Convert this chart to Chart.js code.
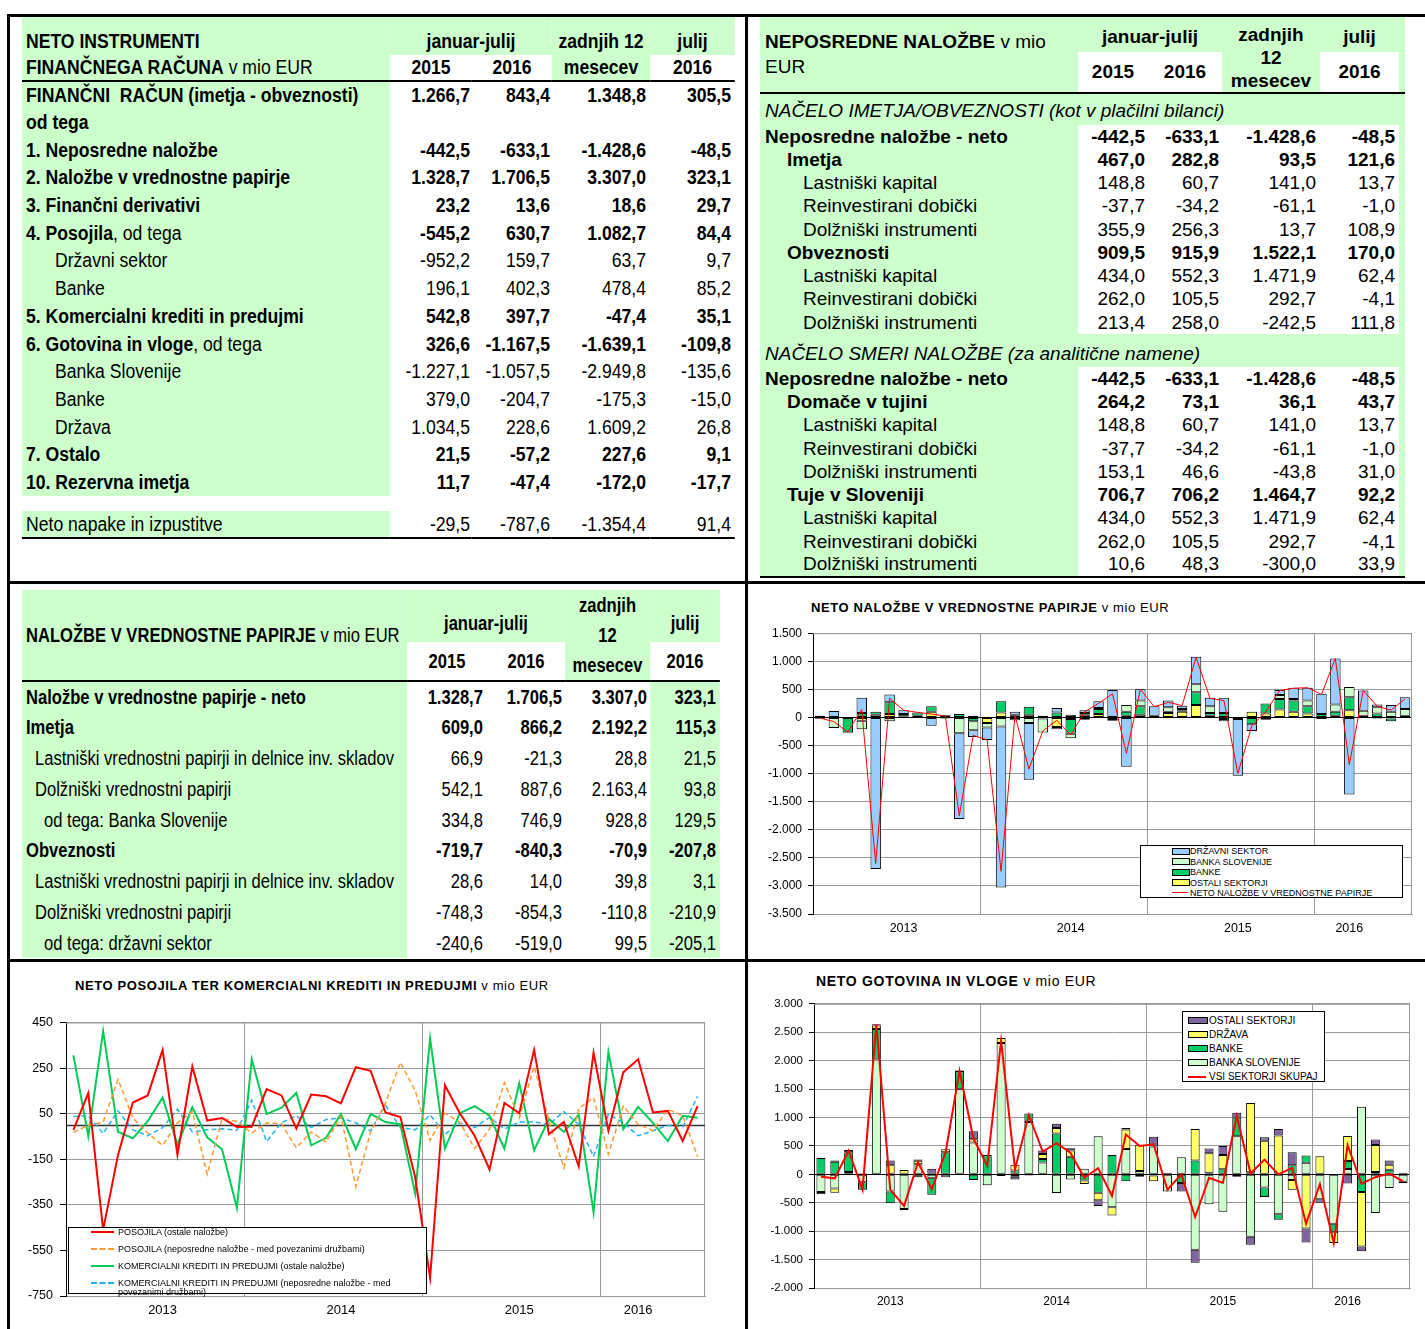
<!DOCTYPE html>
<html>
<head>
<meta charset="utf-8">
<script src="https://cdn.jsdelivr.net/npm/chart.js@4.4.0/dist/chart.umd.min.js"></script>
<style>
html, body { margin: 0; padding: 0; }
body { width: 1425px; height: 1329px; position: relative; overflow: hidden; background: #fff; font-family: 'Liberation Sans', Arial, sans-serif; color: #000; }
.ln { position: absolute; background: #000; }
table { position: absolute; border-collapse: collapse; table-layout: fixed; transform-origin: 0 0; }
td { padding: 0; white-space: nowrap; overflow: visible; vertical-align: middle; }
.g { background: #ccffcc; }
.b { font-weight: bold; }
.c { text-align: center; }
.hb { border-bottom: 2px solid #000; }
.ttl { position: absolute; white-space: nowrap; line-height: 16px; }
.box { position: absolute; }
.legend { position: absolute; border: 1px solid #000; background: #fff; box-sizing: border-box; }
.legend .sw, .legend .tx { position: absolute; }
</style>
</head>
<body>

<div class="ln" style="left:7px;top:14px;width:1418px;height:3px"></div>
<div class="ln" style="left:7px;top:14px;width:3px;height:1315px"></div>
<div class="ln" style="left:745px;top:14px;width:3px;height:1315px"></div>
<div class="ln" style="left:7px;top:581px;width:1418px;height:3px"></div>
<div class="ln" style="left:7px;top:959px;width:1418px;height:3px"></div>

<!-- narrow tables: drawn wider, then squeezed horizontally -->
<table id="t1" style="left:22px;top:17px;width:810.2px;font-size:20px;line-height:21px;transform:scaleX(0.88)">
  <colgroup><col style="width:418.2px"><col style="width:93.2px"><col style="width:90.9px"><col style="width:111.4px"><col style="width:96.5px"></colgroup>
  <tr style="height:38px" class="g">
    <td class="b" style="vertical-align:bottom;padding-left:4.5px;padding-bottom:3px">NETO INSTRUMENTI</td>
    <td colspan="2" class="b c" style="vertical-align:bottom;padding-bottom:3px">januar-julij</td>
    <td class="b c" style="vertical-align:bottom;padding-bottom:3px">zadnjih 12</td>
    <td class="b c" style="vertical-align:bottom;padding-bottom:3px">julij</td>
  </tr>
  <tr style="height:26px">
    <td class="g hb" style="padding-left:4.5px"><b>FINANČNEGA RAČUNA</b> v mio EUR</td>
    <td class="b c hb">2015</td><td class="b c hb">2016</td><td class="g b c hb">mesecev</td><td class="b c hb">2016</td>
  </tr>
</table>

<table id="t2" style="left:760px;top:17px;width:645px;font-size:19px;line-height:22px">
  <colgroup><col style="width:318px"><col style="width:70px"><col style="width:74px"><col style="width:98px"><col style="width:79px"><col style="width:6px"></colgroup>
  <tr style="height:35px">
    <td rowspan="2" class="g hb" style="vertical-align:top;padding:12px 0 0 5px;line-height:25px"><b>NEPOSREDNE NALOŽBE</b> v mio<br>EUR</td>
    <td colspan="2" class="g b c" style="vertical-align:bottom;padding-bottom:4px">januar-julij</td>
    <td rowspan="2" class="g b c hb" style="vertical-align:top;padding-top:6px;line-height:23px">zadnjih<br>12<br>mesecev</td>
    <td class="g b c" style="vertical-align:bottom;padding-bottom:4px">julij</td>
    <td rowspan="2" class="g hb"></td>
  </tr>
  <tr style="height:41px">
    <td class="b c hb">2015</td><td class="b c hb">2016</td><td class="b c hb">2016</td>
  </tr>
</table>

<table id="t3" style="left:22px;top:590px;width:821.2px;font-size:19.5px;line-height:22px;transform:scaleX(0.85)">
  <colgroup><col style="width:452.9px"><col style="width:94.1px"><col style="width:91.8px"><col style="width:100px"><col style="width:82.4px"></colgroup>
  <tr style="height:50px">
    <td rowspan="2" class="g hb" style="padding-left:4.7px"><b>NALOŽBE V VREDNOSTNE PAPIRJE</b> v mio EUR</td>
    <td colspan="2" class="g b c" style="vertical-align:bottom;padding-bottom:8px">januar-julij</td>
    <td rowspan="2" class="g b c hb" style="line-height:30px">zadnjih<br>12<br>mesecev</td>
    <td class="g b c" style="vertical-align:bottom;padding-bottom:8px">julij</td>
  </tr>
  <tr style="height:38px">
    <td class="b c hb">2015</td><td class="b c hb">2016</td><td class="b c hb">2016</td>
  </tr>
</table>

<div class="ttl" style="left:811px;top:600px;font-size:13px;letter-spacing:0.6px"><b>NETO NALOŽBE V VREDNOSTNE PAPIRJE</b> v mio EUR</div>
<div class="box" style="left:750px;top:620px;width:670px;height:325px"><canvas id="chartPapirji"></canvas></div>
<div class="legend" id="legPapirji" style="left:1140px;top:845px;width:263px;height:53px"></div>

<div class="ttl" style="left:75px;top:978px;font-size:13px;letter-spacing:0.6px"><b>NETO POSOJILA TER KOMERCIALNI KREDITI IN PREDUJMI</b> v mio EUR</div>
<div class="box" style="left:10px;top:1008px;width:700px;height:310px"><canvas id="chartPosojila"></canvas></div>
<div class="legend" id="legPosojila" style="left:68px;top:1227px;width:359px;height:67px"></div>

<div class="ttl" style="left:816px;top:973px;font-size:14px;letter-spacing:0.7px"><b>NETO GOTOVINA IN VLOGE</b> v mio EUR</div>
<div class="box" style="left:750px;top:991px;width:665px;height:320px"><canvas id="chartGotovina"></canvas></div>
<div class="legend" id="legGotovina" style="left:1182px;top:1011px;width:143px;height:71px"></div>

<script>
// meseci jan 2013 - jul 2016
const months = [
    'jan 13', 'feb 13', 'mar 13', 'apr 13', 'maj 13', 'jun 13', 'jul 13', 'avg 13', 'sep 13', 'okt 13', 'nov 13', 'dec 13',
    'jan 14', 'feb 14', 'mar 14', 'apr 14', 'maj 14', 'jun 14', 'jul 14', 'avg 14', 'sep 14', 'okt 14', 'nov 14', 'dec 14',
    'jan 15', 'feb 15', 'mar 15', 'apr 15', 'maj 15', 'jun 15', 'jul 15', 'avg 15', 'sep 15', 'okt 15', 'nov 15', 'dec 15',
    'jan 16', 'feb 16', 'mar 16', 'apr 16', 'maj 16', 'jun 16', 'jul 16'
];
const yearLabels = ['2013', '2014', '2015', '2016'];
const yearTickIdxA = [6, 18, 30, 38];
const yearTickIdxB = [5, 17, 29, 38];
const yearBounds = [12, 24, 36];

// neto nalozbe v vrednostne papirje
const npOstali = [0, 0, 0, -60, 50, 60, 20, 30, 100, 10, 0, 30, -100, 90, 30, 50, 0, -170, -30, 50, 60, -30, 30, 50, 0, 80, 100, 220, 30, -30, 0, 100, 70, 140, 100, 70, -30, 30, 130, 30, -20, -20, 0];
const npBanke = [-25, 0, -270, 80, 50, 210, 40, 60, 100, 30, 60, -70, 0, 200, 20, 140, -20, 90, -260, 30, 90, 0, 70, 150, 30, 20, 20, 230, 50, 80, -30, -120, 180, 190, 200, 130, 60, 70, 230, 0, 70, -50, 30];
const npBS = [0, -190, -10, -150, 0, -70, 0, 0, 0, 0, -280, -160, -80, -160, -50, -100, -250, -40, -80, -40, 20, -30, 120, 100, 0, 80, 30, 140, 120, -40, 0, 0, 0, 70, 30, 100, 0, 130, 180, 90, 110, 100, 120];
const npDrzavni = [30, 115, 0, 270, -2700, 140, 70, 0, -150, -20, -1530, -120, -220, -2870, 50, -1010, 30, 80, 50, 50, 120, 490, -880, 200, 170, 120, 60, 490, 150, 270, -1010, -120, -40, 90, 200, 230, 360, 820, -1370, 360, 50, 120, 210];
const npNeto = [-10, -75, -260, 140, -2600, 340, 130, 90, 60, 25, -1750, -320, -400, -2740, 40, -920, -240, -50, -310, 100, 250, 420, -640, 500, 190, 270, 210, 1070, 340, 300, -1000, -150, 100, 480, 520, 530, 410, 1050, -840, 480, 200, 130, 330];

// posojila ter komercialni krediti
const posOstale = [-21, 140, -460, -131, 99, 130, 330, -131, 257, 20, 31, -8, -7, 158, 130, -15, 134, 126, 95, 254, 238, 55, 35, -230, -670, 175, 52, -47, -195, 97, 52, 330, -40, 14, -181, 317, -25, 231, 289, 55, 62, -70, 83];
const posNep = [-32, -1, 13, 200, 31, -35, -89, 10, 59, -216, 27, 17, -35, 10, 6, -100, -30, -75, 38, -270, -30, 97, 274, 151, -68, 52, 13, -103, -18, 186, 31, 257, 17, -188, 73, 120, -128, 83, 3, -25, 69, 41, -138];
const kkOstale = [306, -49, 412, -30, -58, 17, 120, -86, 78, -54, -106, -364, 288, 48, 76, 141, -89, -56, 49, -106, 49, 13, 3, -300, 380, -103, 52, 83, 41, -103, 183, -110, 27, -30, 45, -382, 320, -18, 80, 10, -70, 41, 32];
const kkNep = [38, 41, -37, 62, -21, -47, -11, 69, -30, -21, -16, -23, 109, -72, 10, 41, -11, 24, 31, 10, -25, 87, -11, -21, 45, -40, 10, -11, 34, -18, 13, 14, 3, 59, 3, -138, 48, 10, -47, -25, -1, -8, 126];

// gotovina in vloge
const gvBS = [-310, -250, 40, -140, 2020, -300, -610, 180, -60, -50, 1500, 560, -190, 2310, -40, 920, 210, -330, -90, 100, 670, -580, 445, 60, 490, -300, 300, -1325, -525, -660, 670, -1100, -230, -700, -100, 205, -440, -870, 95, 1190, -680, -240, -130];
const gvBanke = [290, 220, 350, -130, 540, -210, 0, -50, -300, 390, 320, -100, 340, -30, 70, 150, 60, 720, 310, -110, -325, 340, -120, -40, -20, 30, -150, 245, 30, 90, 330, 35, -170, -100, 160, 125, 0, -140, 140, -310, 40, 80, -20];
const gvDrzava = [0, -75, 0, 0, 60, 160, 75, 60, 0, 50, 0, 60, 0, 90, 100, 0, 90, 95, 110, -60, -130, -145, 345, 460, -100, 0, 0, 555, 340, 250, -40, 1220, 590, 685, -170, -955, 320, -200, 440, -960, 475, 90, 30];
const gvOstali = [-40, 25, 40, 20, 20, 85, -20, 20, 100, 0, 10, 140, 0, 0, -50, -20, 60, 75, 40, 0, -100, 0, 25, 0, 170, 0, -150, -230, 85, 160, 85, -140, 65, 115, 230, -245, -60, 0, -160, -85, 100, 75, 0];
const gvSkupaj = [-40, -70, 420, -270, 2640, -270, -555, 210, -260, 390, 1820, 630, 150, 2350, 90, 1045, 400, 550, 380, -60, 110, -380, 700, 500, 530, -270, 0, -750, -60, -150, 1030, 15, 260, 0, 115, -870, -170, -1210, 515, -165, -50, 15, -125];

// tabele
const t1Rows = [
    ['<b>FINANČNI&nbsp; RAČUN (imetja - obveznosti)</b>', 0, 1, ['1.266,7', '843,4', '1.348,8', '305,5']],
    ['<b>od tega</b>', 0, 1, ['', '', '', '']],
    ['<b>1. Neposredne naložbe</b>', 0, 1, ['-442,5', '-633,1', '-1.428,6', '-48,5']],
    ['<b>2. Naložbe v vrednostne papirje</b>', 0, 1, ['1.328,7', '1.706,5', '3.307,0', '323,1']],
    ['<b>3. Finančni derivativi</b>', 0, 1, ['23,2', '13,6', '18,6', '29,7']],
    ['<b>4. Posojila</b>, od tega', 0, 1, ['-545,2', '630,7', '1.082,7', '84,4']],
    ['Državni sektor', 29, 0, ['-952,2', '159,7', '63,7', '9,7']],
    ['Banke', 29, 0, ['196,1', '402,3', '478,4', '85,2']],
    ['<b>5. Komercialni krediti in predujmi</b>', 0, 1, ['542,8', '397,7', '-47,4', '35,1']],
    ['<b>6. Gotovina in vloge</b>, od tega', 0, 1, ['326,6', '-1.167,5', '-1.639,1', '-109,8']],
    ['Banka Slovenije', 29, 0, ['-1.227,1', '-1.057,5', '-2.949,8', '-135,6']],
    ['Banke', 29, 0, ['379,0', '-204,7', '-175,3', '-15,0']],
    ['Država', 29, 0, ['1.034,5', '228,6', '1.609,2', '26,8']],
    ['<b>7. Ostalo</b>', 0, 1, ['21,5', '-57,2', '227,6', '9,1']],
    ['<b>10. Rezervna imetja</b>', 0, 1, ['11,7', '-47,4', '-172,0', '-17,7']]
];
const t2RowsA = [
    ['<b>Neposredne naložbe - neto</b>', 0, 1, ['-442,5', '-633,1', '-1.428,6', '-48,5']],
    ['<b>Imetja</b>', 22, 1, ['467,0', '282,8', '93,5', '121,6']],
    ['Lastniški kapital', 38, 0, ['148,8', '60,7', '141,0', '13,7']],
    ['Reinvestirani dobički', 38, 0, ['-37,7', '-34,2', '-61,1', '-1,0']],
    ['Dolžniški instrumenti', 38, 0, ['355,9', '256,3', '13,7', '108,9']],
    ['<b>Obveznosti</b>', 22, 1, ['909,5', '915,9', '1.522,1', '170,0']],
    ['Lastniški kapital', 38, 0, ['434,0', '552,3', '1.471,9', '62,4']],
    ['Reinvestirani dobički', 38, 0, ['262,0', '105,5', '292,7', '-4,1']],
    ['Dolžniški instrumenti', 38, 0, ['213,4', '258,0', '-242,5', '111,8']]
];
const t2RowsB = [
    ['<b>Neposredne naložbe - neto</b>', 0, 1, ['-442,5', '-633,1', '-1.428,6', '-48,5']],
    ['<b>Domače v tujini</b>', 22, 1, ['264,2', '73,1', '36,1', '43,7']],
    ['Lastniški kapital', 38, 0, ['148,8', '60,7', '141,0', '13,7']],
    ['Reinvestirani dobički', 38, 0, ['-37,7', '-34,2', '-61,1', '-1,0']],
    ['Dolžniški instrumenti', 38, 0, ['153,1', '46,6', '-43,8', '31,0']],
    ['<b>Tuje v Sloveniji</b>', 22, 1, ['706,7', '706,2', '1.464,7', '92,2']],
    ['Lastniški kapital', 38, 0, ['434,0', '552,3', '1.471,9', '62,4']],
    ['Reinvestirani dobički', 38, 0, ['262,0', '105,5', '292,7', '-4,1']],
    ['Dolžniški instrumenti', 38, 0, ['10,6', '48,3', '-300,0', '33,9']]
];
const t3Rows = [
    ['<b>Naložbe v vrednostne papirje - neto</b>', 0, 1, ['1.328,7', '1.706,5', '3.307,0', '323,1']],
    ['<b>Imetja</b>', 0, 1, ['609,0', '866,2', '2.192,2', '115,3']],
    ['Lastniški vrednostni papirji in delnice inv. skladov', 9, 0, ['66,9', '-21,3', '28,8', '21,5']],
    ['Dolžniški vrednostni papirji', 9, 0, ['542,1', '887,6', '2.163,4', '93,8']],
    ['od tega: Banka Slovenije', 18, 0, ['334,8', '746,9', '928,8', '129,5']],
    ['<b>Obveznosti</b>', 0, 1, ['-719,7', '-840,3', '-70,9', '-207,8']],
    ['Lastniški vrednostni papirji in delnice inv. skladov', 9, 0, ['28,6', '14,0', '39,8', '3,1']],
    ['Dolžniški vrednostni papirji', 9, 0, ['-748,3', '-854,3', '-110,8', '-210,9']],
    ['od tega: državni sektor', 18, 0, ['-240,6', '-519,0', '99,5', '-205,1']]
];

// k = 1 / horizontal squeeze of the table
function rowHtml(r, h, padL, pads, greens, extra, last, k) {
    let s = '<tr style="height:' + h + 'px">';
    s += '<td class="g' + (last ? ' hb' : '') + '" style="padding-left:' + ((padL + r[1]) * k) + 'px">' + r[0] + '</td>';
    r[3].forEach(function(v, i) {
        s += '<td class="' + (greens[i] ? 'g ' : '') + (r[2] ? 'b ' : '') + (last ? 'hb' : '') + '" style="text-align:right;padding-right:' + (pads[i] * k) + 'px">' + v + '</td>';
    });
    if (extra) s += '<td class="g' + (last ? ' hb' : '') + '"></td>';
    return s + '</tr>';
}

let html = '';
t1Rows.forEach(function(r) { html += rowHtml(r, 27.7, 4, [2, 2, 4, 4], [0, 0, 0, 0], false, false, 1 / 0.88); });
html += '<tr style="height:15px"><td colspan="5"></td></tr>';
html += rowHtml(['Neto napake in izpustitve', 0, 0, ['-29,5', '-787,6', '-1.354,4', '91,4']], 27, 4, [2, 2, 4, 4], [0, 0, 0, 0], false, true, 1 / 0.88);
document.querySelector('#t1 tbody').insertAdjacentHTML('beforeend', html);

html = '<tr style="height:32px"><td colspan="6" class="g" style="font-style:italic;padding-left:5px;vertical-align:bottom;padding-bottom:3px">NAČELO IMETJA/OBVEZNOSTI (kot v plačilni bilanci)</td></tr>';
t2RowsA.forEach(function(r) { html += rowHtml(r, 23.25, 5, [3, 3, 4, 4], [0, 0, 0, 0], true, false, 1); });
html += '<tr style="height:33px"><td colspan="6" class="g" style="font-style:italic;padding-left:5px;vertical-align:bottom;padding-bottom:2px">NAČELO SMERI NALOŽBE (za analitične namene)</td></tr>';
t2RowsB.forEach(function(r, i) { html += rowHtml(r, 23.25, 5, [3, 3, 4, 4], [0, 0, 0, 0], true, i === t2RowsB.length - 1, 1); });
document.querySelector('#t2 tbody').insertAdjacentHTML('beforeend', html);

html = '';
t3Rows.forEach(function(r) { html += rowHtml(r, 30.8, 4, [4, 3, 3, 4], [0, 0, 0, 1], false, false, 1 / 0.85); });
document.querySelector('#t3 tbody').insertAdjacentHTML('beforeend', html);


Chart.defaults.font.family = "'Liberation Sans', Arial, sans-serif";
Chart.defaults.color = '#000';

const gridGray = '#9a9a9a';

function fmt(v) {
    const s = Math.abs(Math.round(v)).toString().replace(/\B(?=(\d{3})+(?!\d))/g, '.');
    return (v < 0 ? '-' : '') + s;
}

// okvir risalne ploskve in (po potrebi) crta pri 0
const plotFrame = {
    id: 'plotFrame',
    beforeDatasetsDraw(chart, args, opts) {
        const a = chart.chartArea;
        const c = chart.ctx;
        c.save();
        c.strokeStyle = gridGray;
        c.lineWidth = 1;
        c.beginPath();
        c.moveTo(a.left, a.top + 0.5);
        c.lineTo(a.right - 0.5, a.top + 0.5);
        c.lineTo(a.right - 0.5, a.bottom);
        c.stroke();
        if (opts.zero) {
            const y = Math.round(chart.scales.y.getPixelForValue(0)) + 0.5;
            c.strokeStyle = '#333';
            c.lineWidth = 1.5;
            c.beginPath();
            c.moveTo(a.left, y);
            c.lineTo(a.right, y);
            c.stroke();
        }
        c.restore();
    }
};

function xAxis(tickIdx, h, pad, size, stacked) {
    return {
        stacked: stacked,
        offset: true,
        grid: {
            offset: true,
            drawTicks: false,
            color: function(c) { return yearBounds.includes(c.index) ? gridGray : 'rgba(0,0,0,0)'; }
        },
        border: { color: gridGray },
        ticks: {
            autoSkip: false,
            maxRotation: 0,
            padding: pad,
            font: { size: size },
            callback: function(v, i) {
                const k = tickIdx.indexOf(i);
                return k < 0 ? '' : yearLabels[k];
            }
        },
        afterFit: function(s) { s.height = h; }
    };
}

function yAxis(min, max, step, w, size, tickLen, pad, stacked) {
    return {
        stacked: stacked,
        min: min,
        max: max,
        ticks: { stepSize: step, padding: pad, font: { size: size }, callback: function(v) { return fmt(v); } },
        grid: {
            tickLength: tickLen,
            tickColor: '#000',
            color: function(c) { return (stacked && c.tick && c.tick.value === 0) ? '#000' : gridGray; }
        },
        border: { color: '#000' },
        afterFit: function(s) { s.width = w; }
    };
}

function barSet(label, data, color, pct) {
    return {
        type: 'bar',
        label: label,
        data: data,
        backgroundColor: color,
        borderColor: '#000',
        borderWidth: 1,
        borderSkipped: false,
        barPercentage: pct,
        categoryPercentage: 1,
        order: 1
    };
}

function buildLegend(id, chart, order, cfg) {
    const box = document.getElementById(id);
    order.forEach(function(di, k) {
        const ds = chart.data.datasets[di];
        const cy = cfg.first + k * cfg.step;
        const sw = document.createElement('div');
        sw.className = 'sw';
        if (ds.type === 'line') {
            sw.style.cssText = 'left:' + cfg.swLeft + 'px;top:' + (cy - 1) + 'px;width:' + cfg.swW + 'px;height:0;border-top:' + cfg.lineW + 'px ' + (ds.borderDash ? 'dashed' : 'solid') + ' ' + ds.borderColor;
        } else {
            sw.style.cssText = 'left:' + cfg.swLeft + 'px;top:' + (cy - cfg.swH / 2 - 1) + 'px;width:' + cfg.swW + 'px;height:' + cfg.swH + 'px;background:' + ds.backgroundColor + ';border:1px solid #000';
        }
        const tx = document.createElement('div');
        tx.className = 'tx';
        tx.style.cssText = 'left:' + cfg.txLeft + 'px;top:' + (cy - cfg.lh / 2) + 'px;font-size:' + cfg.size + 'px;line-height:' + cfg.lh + 'px;' + (cfg.wrap ? 'width:' + cfg.wrap + 'px;white-space:normal' : 'white-space:nowrap');
        tx.textContent = ds.label;
        box.appendChild(sw);
        box.appendChild(tx);
    });
}


const chartPapirji = new Chart(document.getElementById('chartPapirji'), {
    type: 'bar',
    data: {
        labels: months,
        datasets: [
            barSet('OSTALI SEKTORJI', npOstali, '#ffff66', 0.75),
            barSet('BANKE', npBanke, '#00cc66', 0.75),
            barSet('BANKA SLOVENIJE', npBS, '#ccffcc', 0.75),
            barSet('DRŽAVNI SEKTOR', npDrzavni, '#99ccff', 0.75),
            { type: 'line', label: 'NETO NALOŽBE V VREDNOSTNE PAPIRJE', data: npNeto, borderColor: '#ff0000', borderWidth: 1, pointRadius: 0, tension: 0, order: 0 }
        ]
    },
    options: {
        responsive: true,
        maintainAspectRatio: false,
        animation: false,
        layout: { padding: { top: 5, right: 8, left: 0, bottom: 0 } },
        scales: {
            x: xAxis(yearTickIdxA, 31, 7, 12.5, true),
            y: yAxis(-3500, 1500, 500, 63, 12, 5, 6, true)
        },
        plugins: { legend: { display: false }, tooltip: { enabled: false }, plotFrame: { zero: false } }
    },
    plugins: [plotFrame]
});
buildLegend('legPapirji', chartPapirji, [3, 2, 1, 0, 4], { first: 5, step: 10.6, swLeft: 31, swW: 16, swH: 5, lineW: 1, txLeft: 49, size: 9, lh: 10 });


const chartPosojila = new Chart(document.getElementById('chartPosojila'), {
    type: 'line',
    data: {
        labels: months,
        datasets: [
            { type: 'line', label: 'POSOJILA (ostale naložbe)', data: posOstale, borderColor: '#ff0000', borderWidth: 2, pointRadius: 0, tension: 0 },
            { type: 'line', label: 'POSOJILA (neposredne naložbe - med povezanimi družbami)', data: posNep, borderColor: '#ff9933', borderWidth: 1.5, borderDash: [5, 3], pointRadius: 0, tension: 0 },
            { type: 'line', label: 'KOMERCIALNI KREDITI IN PREDUJMI (ostale naložbe)', data: kkOstale, borderColor: '#00cc55', borderWidth: 2, pointRadius: 0, tension: 0 },
            { type: 'line', label: 'KOMERCIALNI KREDITI IN PREDUJMI (neposredne naložbe - med povezanimi družbami)', data: kkNep, borderColor: '#22b4f0', borderWidth: 1.5, borderDash: [5, 3], pointRadius: 0, tension: 0 }
        ]
    },
    options: {
        responsive: true,
        maintainAspectRatio: false,
        animation: false,
        layout: { padding: { top: 5, right: 5, left: 0, bottom: 0 } },
        scales: {
            x: xAxis(yearTickIdxA, 22, 7, 13, false),
            y: yAxis(-750, 450, 200, 56, 12.5, 6, 7, false)
        },
        plugins: { legend: { display: false }, tooltip: { enabled: false }, plotFrame: { zero: true } }
    },
    plugins: [plotFrame]
});
buildLegend('legPosojila', chartPosojila, [0, 1, 2, 3], { first: 4, step: 17, swLeft: 22, swW: 23, lineW: 2, txLeft: 49, size: 9, lh: 9, wrap: 295 });


const chartGotovina = new Chart(document.getElementById('chartGotovina'), {
    type: 'bar',
    data: {
        labels: months,
        datasets: [
            barSet('BANKA SLOVENIJE', gvBS, '#ccffcc', 0.65),
            barSet('BANKE', gvBanke, '#00cc66', 0.65),
            barSet('DRŽAVA', gvDrzava, '#ffff66', 0.65),
            barSet('OSTALI SEKTORJI', gvOstali, '#8064a2', 0.65),
            { type: 'line', label: 'VSI SEKTORJI SKUPAJ', data: gvSkupaj, borderColor: '#ff0000', borderWidth: 2, pointRadius: 0, tension: 0, order: 0 }
        ]
    },
    options: {
        responsive: true,
        maintainAspectRatio: false,
        animation: false,
        layout: { padding: { top: 5, right: 5, left: 0, bottom: 0 } },
        scales: {
            x: xAxis(yearTickIdxB, 23, 6, 12, true),
            y: yAxis(-2000, 3000, 500, 64, 11.5, 5, 6, true)
        },
        plugins: { legend: { display: false }, tooltip: { enabled: false }, plotFrame: { zero: false } }
    },
    plugins: [plotFrame]
});
buildLegend('legGotovina', chartGotovina, [3, 2, 1, 0, 4], { first: 8, step: 14.2, swLeft: 5, swW: 18, swH: 5, lineW: 2, txLeft: 26, size: 10, lh: 11 });
</script>
</body>
</html>
